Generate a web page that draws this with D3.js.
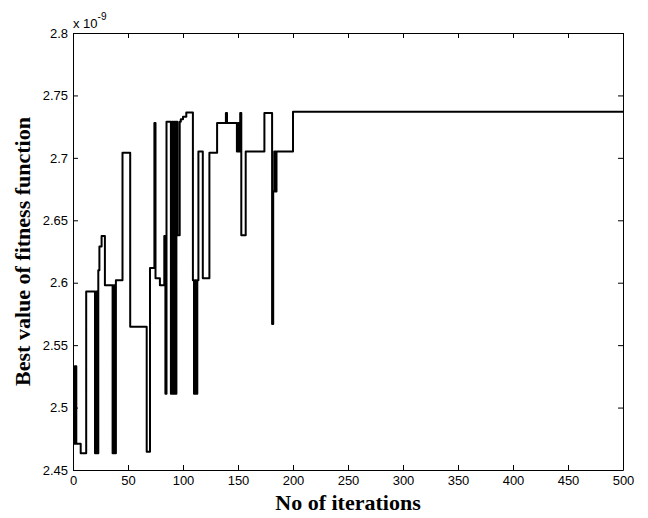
<!DOCTYPE html>
<html>
<head>
<meta charset="utf-8">
<script src="https://cdn.jsdelivr.net/npm/d3@7"></script>
<style>
  body { margin: 0; background: #fff; }
  svg { display: block; }
</style>
</head>
<body>
<div id="chart"></div>
<script>

// best fitness value (x 1e-9), step changes at these iterations
var iterations = [0, 1, 2, 3, 7, 12, 20, 21, 22, 23, 24, 26, 29, 36, 37, 38, 39, 45, 52, 67, 70, 74, 75, 79,
  83, 84, 85, 89, 90, 91, 92, 93, 94, 95, 97, 98, 100, 103, 109, 110, 111, 112, 113, 114, 118, 124, 131,
  139, 140, 149, 150, 151, 152, 153, 157, 174, 181, 182, 183, 184, 185, 200, 500];
var bestValues = [2.533, 2.471, 2.533, 2.471, 2.4634, 2.593, 2.4634, 2.593, 2.4634, 2.610, 2.629, 2.6375, 2.598, 2.4634, 2.598, 2.4634, 2.602, 2.704, 2.5648, 2.4647, 2.6118, 2.728, 2.6035, 2.598,
  2.6375, 2.511, 2.729, 2.511, 2.729, 2.511, 2.729, 2.511, 2.729, 2.638, 2.729, 2.731, 2.733, 2.7363, 2.602, 2.511, 2.602, 2.511, 2.602, 2.705, 2.6035, 2.704, 2.728,
  2.736, 2.728, 2.705, 2.728, 2.705, 2.736, 2.638, 2.705, 2.736, 2.567, 2.673, 2.705, 2.673, 2.705, 2.737, 2.737];

var xTicks = [0, 50, 100, 150, 200, 250, 300, 350, 400, 450, 500];
var yTicks = [2.45, 2.5, 2.55, 2.6, 2.65, 2.7, 2.75, 2.8];
var yTickLabels = ["2.45", "2.5", "2.55", "2.6", "2.65", "2.7", "2.75", "2.8"];

var svgWidth = 648;
var svgHeight = 518;

var margin = {
  top: 33,
  bottom: 48,
  right: 25,
  left: 73
};

var width = svgWidth - margin.left - margin.right;
var height = svgHeight - margin.top - margin.bottom;

var svg = d3.select("#chart")
  .append("svg")
  .attr("width", svgWidth)
  .attr("height", svgHeight);

var chartGroup = svg.append("g")
  .attr("transform", `translate(${margin.left}, ${margin.top})`);

var xScale = d3.scaleLinear().domain([0, 500]).range([0, width]);
var yScale = d3.scaleLinear().domain([2.45, 2.8]).range([height, 0]);

var data = iterations.map(function(d, i) {
  return { it: d, val: bestValues[i] };
});

// the fitness curve
var line = d3.line()
  .x(d => xScale(d.it))
  .y(d => yScale(d.val))
  .curve(d3.curveStepAfter);

chartGroup.append("path")
  .datum(data)
  .attr("fill", "none")
  .attr("stroke", "#000")
  .attr("stroke-width", 2)
  .attr("stroke-linejoin", "round")
  .attr("d", line);

// axes, ticks pointing inwards like matlab
var tickFont = "'Liberation Sans', Arial, sans-serif";

var bottomAxis = d3.axisBottom(xScale).tickValues(xTicks).tickSizeInner(-5).tickSizeOuter(0).tickPadding(6);
var topAxis = d3.axisTop(xScale).tickValues(xTicks).tickSizeInner(-5).tickSizeOuter(0).tickFormat("");
var leftAxis = d3.axisLeft(yScale).tickValues(yTicks).tickSizeInner(-5).tickSizeOuter(0).tickPadding(5)
  .tickFormat((d, i) => yTickLabels[i]);
var rightAxis = d3.axisRight(yScale).tickValues(yTicks).tickSizeInner(-5).tickSizeOuter(0).tickFormat("");

chartGroup.append("g").attr("transform", `translate(0, ${height})`).call(bottomAxis);
chartGroup.append("g").call(topAxis);
chartGroup.append("g").call(leftAxis);
chartGroup.append("g").attr("transform", `translate(${width}, 0)`).call(rightAxis);

chartGroup.selectAll(".domain, .tick line")
  .attr("stroke", "#000")
  .attr("stroke-width", 1);

chartGroup.selectAll(".tick text")
  .attr("fill", "#000")
  .style("font-family", tickFont)
  .style("font-size", "13px");

// exponent label
var expLabel = svg.append("text")
  .attr("x", margin.left)
  .attr("y", 28)
  .style("font-family", tickFont)
  .style("font-size", "13px")
  .attr("fill", "#000");

expLabel.append("tspan").text("x 10");
expLabel.append("tspan")
  .attr("dy", -8)
  .style("font-size", "10px")
  .text("-9");

// axis titles
svg.append("text")
  .attr("x", margin.left + width / 2)
  .attr("y", 510)
  .attr("text-anchor", "middle")
  .style("font-family", "'Liberation Serif', 'Times New Roman', serif")
  .style("font-weight", "bold")
  .style("font-size", "22px")
  .text("No of iterations");

svg.append("text")
  .attr("transform", `translate(30, ${margin.top + height / 2}) rotate(-90)`)
  .attr("text-anchor", "middle")
  .style("font-family", "'Liberation Serif', 'Times New Roman', serif")
  .style("font-weight", "bold")
  .style("font-size", "22px")
  .text("Best value of fitness function");

</script>
</body>
</html>
